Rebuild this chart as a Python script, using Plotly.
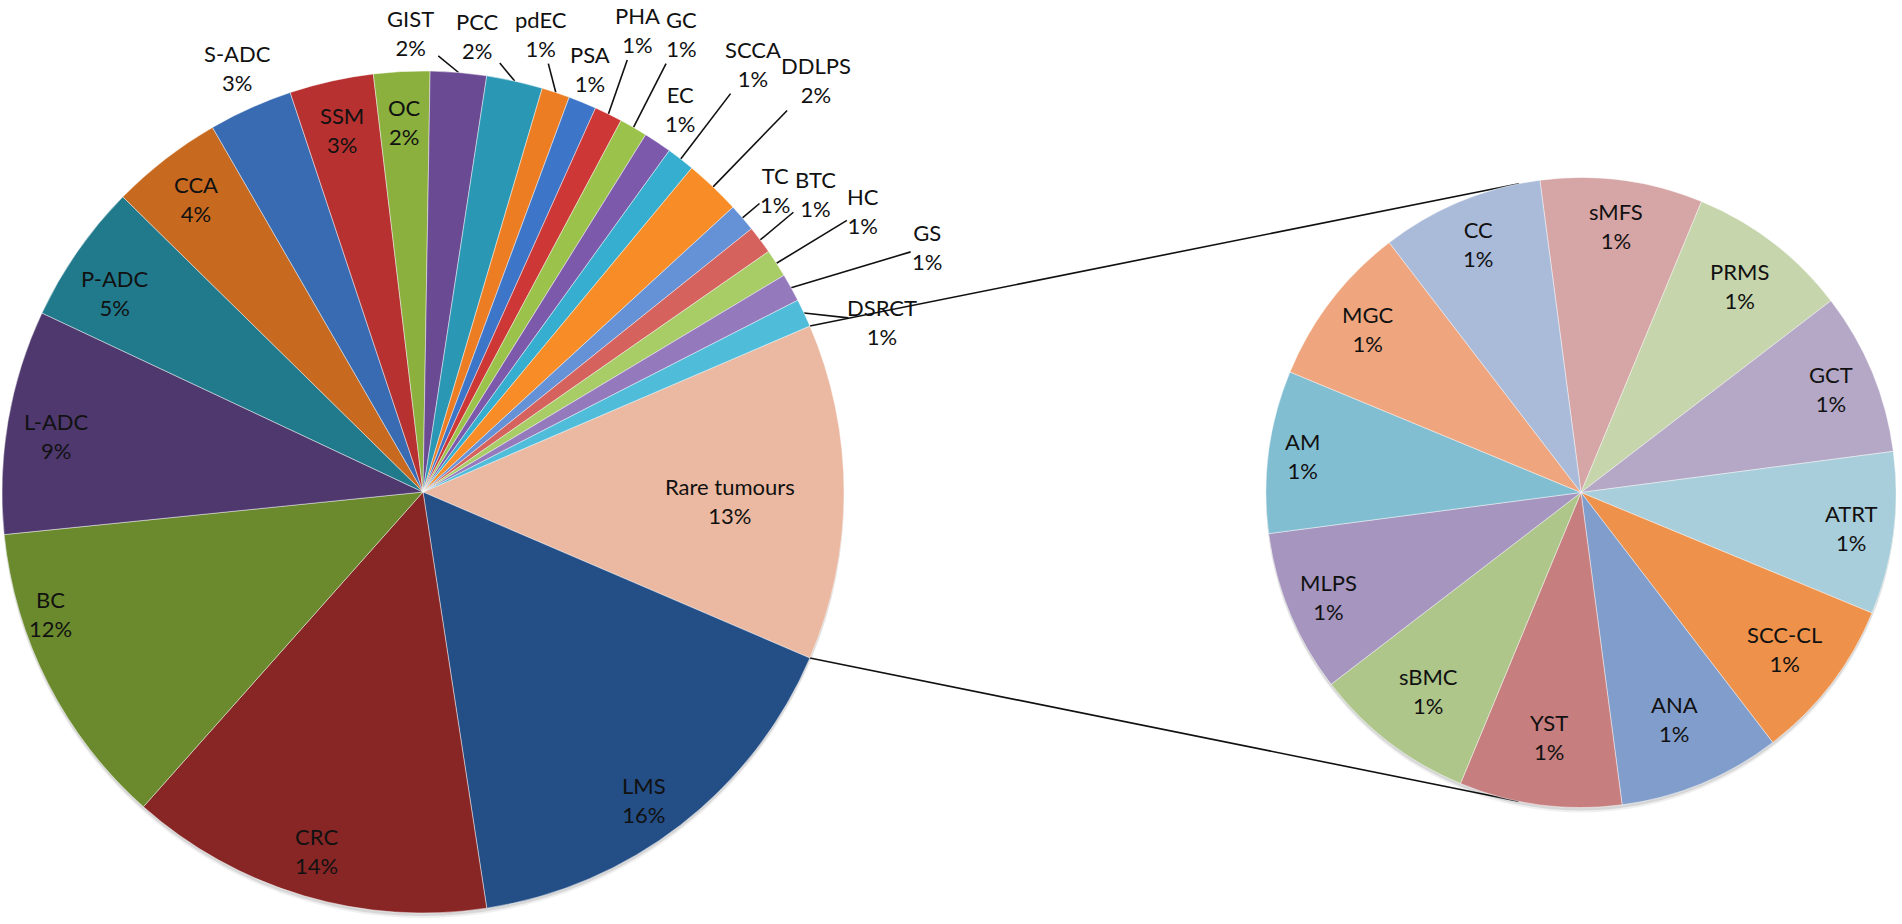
import math
import plotly.graph_objects as go

W, H = 1902, 924

# ---------------- data ----------------
main_labels = ["Rare tumours", "LMS", "CRC", "BC", "L-ADC", "P-ADC", "CCA", "S-ADC",
               "SSM", "OC", "GIST", "PCC", "pdEC", "PSA", "PHA", "GC", "EC", "SCCA",
               "DDLPS", "TC", "BTC", "HC", "GS", "DSRCT"]
main_counts = [12, 15, 13, 11, 8, 5, 4, 3, 3, 2, 2, 2, 1, 1, 1, 1, 1, 1, 2, 1, 1, 1, 1, 1]

rare_labels = ["sMFS", "PRMS", "GCT", "ATRT", "SCC-CL", "ANA", "YST", "sBMC",
               "MLPS", "AM", "MGC", "CC"]
rare_counts = [1, 1, 1, 1, 1, 1, 1, 1, 1, 1, 1, 1]

# ---------------- style ----------------
main_colors = ["#EBB9A1", "#244E86", "#882625", "#6B8A2D", "#4E386E", "#217A8C", "#C7691F",
               "#386BB2", "#B63130", "#8BB03E", "#6B4A94", "#2A98B5", "#EC7D23", "#3D75C8",
               "#CD3735", "#9BC24A", "#7D59AB", "#35AECF", "#F88D27", "#6592D6", "#D6625E",
               "#A8CC66", "#9479BC", "#4FBCDA"]
rare_colors = ["#D6A5A5", "#C6D5AC", "#B4A8C6", "#A8CEDB", "#EE914B", "#819DCB", "#C67E7E",
               "#AEC68A", "#A595BF", "#82BED2", "#EFA67E", "#AABBDA"]

MAIN_C, MAIN_R = (423.0, 492.0), 421.0
SEC_C, SEC_R = (1581.0, 492.5), 315.0
SEC_ROT = -7.5
FONT = dict(family="Lato, 'Open Sans', sans-serif", size=22, color="#111111")

# label placement: (radius factor, angle offset deg, leader line?)
main_label_pos = {
    "Rare tumours": (0.73, 1.6, False), "LMS": (0.90, 2, False), "CRC": (0.89, 0, False),
    "BC": (0.93, 9, False), "L-ADC": (0.88, -1, False), "P-ADC": (0.87, -2, False),
    "CCA": (0.88, 0, False), "S-ADC": (1.10, 0.6, False), "SSM": (0.88, 0, False),
    "OC": (0.88, 0, False), "GIST": (1.09, -6.4, True), "PCC": (1.09, -5.7, True),
    "pdEC": (1.124, -4, True), "PSA": (1.08, -0.7, False), "PHA": (1.21, -1.2, True),
    "GC": (1.25, -0.6, True), "EC": (1.095, 0, False), "SCCA": (1.285, -0.1, True),
    "DDLPS": (1.352, 0.15, True), "TC": (1.102, 0.07, True), "BTC": (1.170, -0.45, True),
    "HC": (1.24, 0.3, True), "GS": (1.33, 3.1, True), "DSRCT": (1.163, 4.8, True),
}
rare_label_rf = [0.852, 0.828, 0.859, 0.867, 0.815, 0.778, 0.783, 0.796, 0.868, 0.893, 0.853, 0.853]

total = sum(main_counts)
MAIN_ROT = 90 - 180.0 * main_counts[0] / total   # "other" slice centred at 3 o'clock


def polar(c, r, theta):
    t = math.radians(theta)
    return c[0] + r * math.sin(t), c[1] - r * math.cos(t)


def domain(c, r, dy=0.0):
    return dict(x=[max(0, (c[0] - r) / W), min(1, (c[0] + r) / W)],
                y=[max(0, 1 - (c[1] + dy + r) / H), min(1, 1 - (c[1] + dy - r) / H)])


def mid_angles(vals, rot):
    tot = sum(vals)
    out, a = [], rot
    for v in vals:
        span = 360.0 * v / tot
        out.append(a + span / 2)
        a += span
    return out


fig = go.Figure()

# --- connector lines and leader lines (pixel-space hidden axes) ---
lines_x, lines_y = [], []


def add_line(pts):
    for p in pts:
        lines_x.append(p[0])
        lines_y.append(p[1])
    lines_x.append(None)
    lines_y.append(None)


def tangent_points(p, c, r):
    vx, vy = p[0] - c[0], p[1] - c[1]
    d = math.hypot(vx, vy)
    a = math.acos(r / d)
    base = math.atan2(vy, vx)
    return [(c[0] + r * math.cos(base + s * a), c[1] + r * math.sin(base + s * a)) for s in (1, -1)]


other_span = 360.0 * main_counts[0] / total
p_top = polar(MAIN_C, MAIN_R, MAIN_ROT)
p_bot = polar(MAIN_C, MAIN_R, MAIN_ROT + other_span)
t_top = min(tangent_points(p_top, SEC_C, SEC_R), key=lambda q: q[1])
t_bot = max(tangent_points(p_bot, SEC_C, SEC_R), key=lambda q: q[1])
add_line([p_top, t_top])
add_line([p_bot, t_bot])

annotations = []
main_mid = mid_angles(main_counts, MAIN_ROT)
for name, v, mid in zip(main_labels, main_counts, main_mid):
    rf, dth, leader = main_label_pos[name]
    pct = round(100.0 * v / total)
    lx, ly = polar(MAIN_C, MAIN_R * rf, mid + dth)
    annotations.append(dict(x=lx, y=ly, xref="x", yref="y", text=f"{name}<br>{pct}%",
                            showarrow=False, font=FONT, align="center"))
    if leader:
        ex, ey = polar(MAIN_C, MAIN_R, mid)
        hw = 0.27 * FONT["size"] * max(len(name), len(f"{pct}%")) + 4
        hh = 30
        dx, dy = ex - lx, ey - ly
        t = min(hw / abs(dx) if dx else 1e9, hh / abs(dy) if dy else 1e9)
        add_line([(ex, ey), (lx + dx * t, ly + dy * t)])

rare_mid = mid_angles(rare_counts, SEC_ROT)
for name, v, mid, rf in zip(rare_labels, rare_counts, rare_mid, rare_label_rf):
    pct = round(100.0 * v / total)
    lx, ly = polar(SEC_C, SEC_R * rf, mid)
    annotations.append(dict(x=lx, y=ly, xref="x", yref="y", text=f"{name}<br>{pct}%",
                            showarrow=False, font=FONT, align="center"))

fig.add_trace(go.Scatter(x=lines_x, y=lines_y, mode="lines", hoverinfo="skip",
                         line=dict(color="#111111", width=1.6), showlegend=False))

# --- soft shadows ---
for c, r in ((MAIN_C, MAIN_R), (SEC_C, SEC_R)):
    for dy, a in ((5, 0.06), (3, 0.10)):
        fig.add_trace(go.Pie(values=[1], labels=["shadow"], domain=domain(c, r, dy),
                             marker=dict(colors=[f"rgba(0,0,0,{a})"]), textinfo="none",
                             hoverinfo="skip", sort=False, showlegend=False))

# --- pies ---
fig.add_trace(go.Pie(labels=main_labels, values=main_counts, sort=False,
                     direction="clockwise", rotation=MAIN_ROT,
                     domain=domain(MAIN_C, MAIN_R), textinfo="none",
                     marker=dict(colors=main_colors, line=dict(color="rgba(255,255,255,0.45)", width=1)),
                     hoverinfo="label+percent", showlegend=False))
fig.add_trace(go.Pie(labels=rare_labels, values=rare_counts, sort=False,
                     direction="clockwise", rotation=SEC_ROT,
                     domain=domain(SEC_C, SEC_R), textinfo="none",
                     marker=dict(colors=rare_colors, line=dict(color="rgba(255,255,255,0.45)", width=1)),
                     hoverinfo="label", showlegend=False))

fig.update_layout(
    width=W, height=H, margin=dict(l=0, r=0, t=0, b=0),
    paper_bgcolor="white", plot_bgcolor="white",
    xaxis=dict(range=[0, W], visible=False, fixedrange=True),
    yaxis=dict(range=[H, 0], visible=False, fixedrange=True),
    annotations=annotations, showlegend=False,
)

fig.write_html("out.html", config={"displayModeBar": False},
               post_script="document.body.style.margin='0px';document.body.style.overflow='hidden';")
